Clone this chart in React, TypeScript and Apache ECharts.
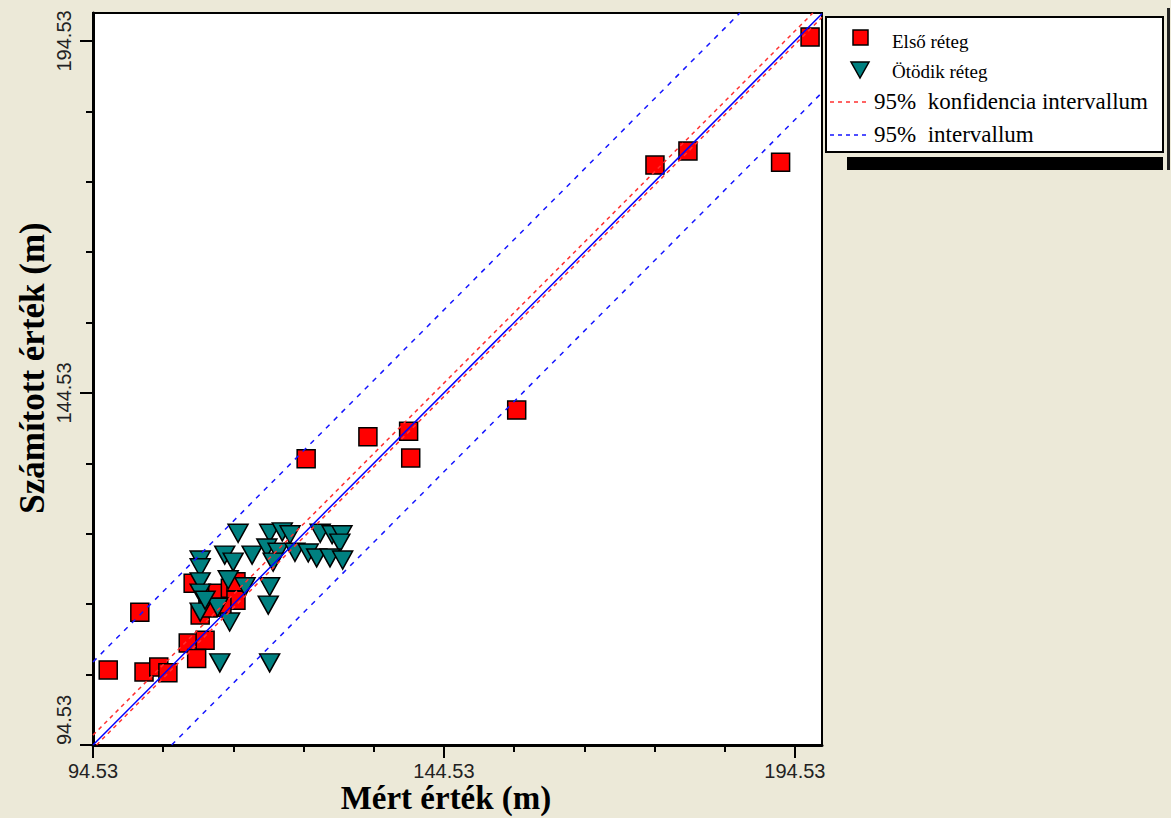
import { useEffect, useRef } from "react";
import * as echarts from "echarts";

const AXIS_MIN = 94.53;
const X_MAX = 198.4;
const Y_MAX = 198.5;
const majorTicks = [94.53, 144.53, 194.53];
const minorTicks = [104.53, 114.53, 124.53, 134.53, 154.53, 164.53, 174.53, 184.53];

// Első réteg (red squares)
const elsoX = [196.7, 174.6, 179.3, 192.5, 154.9, 133.7, 139.5, 139.8, 124.9,
  101.2, 96.7, 101.8, 103.9, 105.2, 108.1, 110.5, 109.3, 108.8, 109.8, 111.6, 112.3, 114.1, 114.9, 114.9, 112.9, 110.9];
const elsoY = [195.1, 176.9, 178.9, 177.3, 142.1, 138.3, 139.1, 135.3, 135.2,
  113.4, 105.2, 104.9, 105.6, 104.8, 109.0, 109.4, 106.8, 117.5, 113.0, 115.4, 116.1, 116.8, 117.7, 115.1, 114.1, 114.0];

// Ötödik réteg (teal triangles)
const otodikX = [115.2, 119.7, 121.5, 122.6, 126.9, 128.6, 130.0, 129.7, 113.3, 117.2, 114.5, 119.3, 120.9, 123.3,
  125.2, 126.4, 128.3, 130.1, 120.2, 116.2, 119.7, 119.5, 109.8, 109.8, 109.8, 109.8, 109.8, 112.3, 114.0, 112.6, 119.7, 110.5, 113.8];
const otodikY = [124.6, 124.6, 124.8, 124.4, 124.6, 124.4, 124.4, 123.2, 121.5, 121.5, 120.5, 122.5, 121.9, 121.9,
  121.8, 121.1, 121.1, 120.8, 120.5, 117.0, 117.0, 114.4, 120.8, 119.7, 117.7, 116.1, 113.4, 114.1, 112.0, 106.2, 106.2, 115.1, 118.0];

// Fitted line, 95% confidence band, 95% prediction band (end points)
const fitX = [94.53, 198.4];
const fitY = [94.53, 198.4];
const confUpX = [94.53, 197.1];
const confUpY = [95.93, 198.5];
const confLoX = [95.03, 198.4];
const confLoY = [94.53, 197.9];
const predUpX = [94.53, 186.7];
const predUpY = [106.33, 198.5];
const predLoX = [105.73, 198.4];
const predLoY = [94.53, 187.2];

const legendLabels = ["Első réteg", "Ötödik réteg", "95%  konfidencia intervallum", "95%  intervallum"];

const pairs = (xs: number[], ys: number[]) => xs.map((x, i) => [x, ys[i]]);
const fmt = (v: number) => v.toFixed(2);

export default function App() {
  const ref = useRef<HTMLDivElement>(null);
  useEffect(() => {
    if (!ref.current) return;
    const chart = echarts.init(ref.current, null, { renderer: "svg" });
    const labelFont = { fontFamily: "Liberation Sans", fontSize: 20, color: "#222" };
    const tickStyle = { color: "#000", width: 2 };
    const axisBase = {
      type: "value" as const,
      min: AXIS_MIN,
      splitLine: { show: false },
    };
    const lineSeries = (name: string, xs: number[], ys: number[], color: string, type: any) => ({
      name,
      type: "line",
      data: pairs(xs, ys),
      showSymbol: false,
      symbol: "none",
      clip: true,
      z: 5,
      lineStyle: { color, width: 1.5, type },
      silent: true,
    });
    chart.setOption({
      animation: false,
      backgroundColor: "#ECE9D8",
      grid: {
        left: 93, top: 13, width: 729, height: 732,
        show: true, backgroundColor: "#fff", borderColor: "#000", borderWidth: 2,
      },
      xAxis: [
        {
          ...axisBase, max: X_MAX, position: "bottom",
          axisLine: { show: true, onZero: false, lineStyle: { color: "#000", width: 3 } },
          axisTick: { show: true, customValues: majorTicks, length: 13, lineStyle: tickStyle },
          axisLabel: { ...labelFont, customValues: majorTicks, formatter: fmt, margin: 16, lineHeight: 20 },
        },
        {
          ...axisBase, max: X_MAX, position: "bottom",
          axisLine: { show: false },
          axisTick: { show: true, customValues: minorTicks, length: 7, lineStyle: tickStyle },
          axisLabel: { show: false },
        },
      ],
      yAxis: [
        {
          ...axisBase, max: Y_MAX, position: "left",
          axisLine: { show: true, onZero: false, lineStyle: { color: "#000", width: 3 } },
          axisTick: { show: true, customValues: majorTicks, length: 13, lineStyle: tickStyle },
          axisLabel: { ...labelFont, customValues: majorTicks, formatter: fmt, rotate: 90, margin: 19, alignMinLabel: "left" },
        },
        {
          ...axisBase, max: Y_MAX, position: "left",
          axisLine: { show: false },
          axisTick: { show: true, customValues: minorTicks, length: 7, lineStyle: tickStyle },
          axisLabel: { show: false },
        },
      ],
      series: [
        {
          name: legendLabels[0], type: "scatter", data: pairs(elsoX, elsoY),
          symbol: "rect", symbolSize: 18, z: 2,
          itemStyle: { color: "#ff0000", borderColor: "#000", borderWidth: 1.5, opacity: 1 },
        },
        {
          name: legendLabels[1], type: "scatter", data: pairs(otodikX, otodikY),
          symbol: "triangle", symbolSize: [20, 18], symbolRotate: 180, z: 3,
          itemStyle: { color: "#008080", borderColor: "#000", borderWidth: 1.5, opacity: 1 },
        },
        lineSeries("fit", fitX, fitY, "#0000ff", "solid"),
        lineSeries(legendLabels[2] + " felső", confUpX, confUpY, "#ff3030", [4, 4]),
        lineSeries(legendLabels[2] + " alsó", confLoX, confLoY, "#ff3030", [4, 4]),
        lineSeries(legendLabels[3] + " felső", predUpX, predUpY, "#1515ff", [5, 6]),
        lineSeries(legendLabels[3] + " alsó", predLoX, predLoY, "#1515ff", [5, 6]),
      ],
      graphic: [
        { type: "text", x: 446, y: 798, style: { text: "Mért érték (m)", font: "bold 33px 'Liberation Serif'", fill: "#000", align: "center", verticalAlign: "middle", textAlign: "center", textVerticalAlign: "middle" } },
        { type: "text", x: 32, y: 368, rotation: Math.PI / 2, style: { text: "Számított érték (m)", font: "bold 35px 'Liberation Serif'", fill: "#000", align: "center", verticalAlign: "middle", textAlign: "center", textVerticalAlign: "middle" } },
        { type: "rect", shape: { x: 847, y: 157, width: 316, height: 13 }, style: { fill: "#000" } },
        { type: "rect", shape: { x: 1167, y: 8, width: 3, height: 162 }, style: { fill: "#222" } },
        { type: "rect", shape: { x: 826, y: 17, width: 337, height: 135 }, style: { fill: "#fff", stroke: "#000", lineWidth: 2 } },
        { type: "rect", shape: { x: 853, y: 30, width: 15, height: 15 }, style: { fill: "#ff0000", stroke: "#000", lineWidth: 1.5 } },
        { type: "polygon", shape: { points: [[851, 62], [869, 62], [860, 78]] }, style: { fill: "#008080", stroke: "#000", lineWidth: 1.5 } },
        { type: "line", shape: { x1: 830, y1: 102, x2: 867, y2: 102 }, style: { stroke: "#ff3030", lineWidth: 1.5, lineDash: [4, 4] } },
        { type: "line", shape: { x1: 830, y1: 135, x2: 867, y2: 135 }, style: { stroke: "#1515ff", lineWidth: 1.5, lineDash: [4, 4] } },
        { type: "text", x: 892, y: 41, style: { text: legendLabels[0], font: "19px 'Liberation Serif'", fill: "#000", verticalAlign: "middle", textVerticalAlign: "middle" } },
        { type: "text", x: 892, y: 71, style: { text: legendLabels[1], font: "19px 'Liberation Serif'", fill: "#000", verticalAlign: "middle", textVerticalAlign: "middle" } },
        { type: "text", x: 874, y: 101, style: { text: legendLabels[2], font: "23px 'Liberation Serif'", fill: "#000", verticalAlign: "middle", textVerticalAlign: "middle" } },
        { type: "text", x: 874, y: 134, style: { text: legendLabels[3], font: "23px 'Liberation Serif'", fill: "#000", verticalAlign: "middle", textVerticalAlign: "middle" } },
      ],
    });
    return () => chart.dispose();
  }, []);
  return <div ref={ref} style={{ position: "fixed", left: 0, top: 0, width: 1171, height: 818 }} />;
}
